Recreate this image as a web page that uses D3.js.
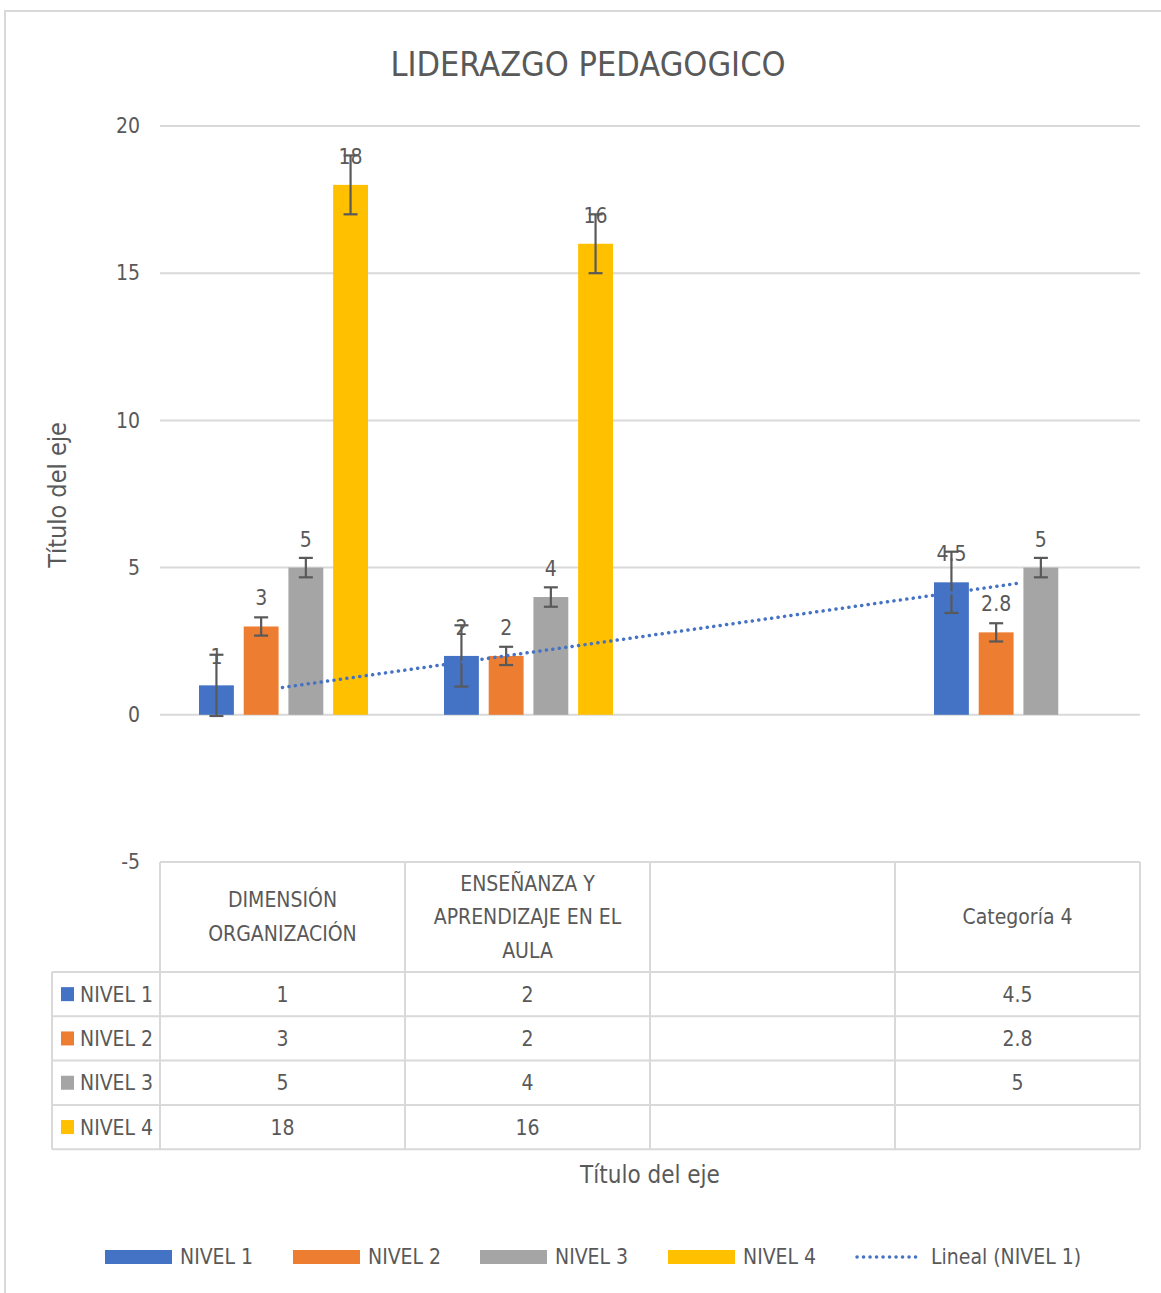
<!DOCTYPE html>
<html>
<head>
<meta charset="utf-8">
<script src="https://cdn.jsdelivr.net/npm/d3@7"></script>
<style>
  body { margin: 0; background: #fff; }
  svg text { font-family: "Liberation Sans Narrow", "DejaVu Sans Condensed", "Liberation Sans", sans-serif; fill: #595959; }
</style>
</head>
<body>
<svg id="chart" width="1161" height="1293"></svg>
<script>
// ---- data ----
const categories = [
  ["DIMENSIÓN", "ORGANIZACIÓN"],
  ["ENSEÑANZA Y", "APRENDIZAJE EN EL", "AULA"],
  [],
  ["Categoría 4"]
];
const seriesNames = ["NIVEL 1", "NIVEL 2", "NIVEL 3", "NIVEL 4"];
const seriesColors = ["#4472C4", "#ED7D31", "#A5A5A5", "#FFC000"];
const nivel1 = [1, 2, null, 4.5];
const nivel2 = [3, 2, null, 2.8];
const nivel3 = [5, 4, null, 5];
const nivel4 = [18, 16, null, null];
const errorAmount = [1.04, 0.31, 0.33, 1.0];   // standard error per series
const yTicks = [-5, 0, 5, 10, 15, 20];

const seriesValues = [nivel1, nivel2, nivel3, nivel4];

const svg = d3.select("#chart");
const grid = "#d9d9d9";

// chart frame
svg.append("rect").attr("x", 5).attr("y", 11).attr("width", 1170).attr("height", 1300)
  .attr("fill", "none").attr("stroke", grid).attr("stroke-width", 2);

// ---- scales ----
const x0 = d3.scaleBand().domain(d3.range(categories.length)).range([160, 1140]);
const x1 = d3.scaleBand().domain(d3.range(seriesNames.length)).range([39, 208]).paddingInner(0.22);
const y = d3.scaleLinear().domain([-5, 20]).range([862, 126]);

// title
svg.append("text").attr("x", 588).attr("y", 76).attr("text-anchor", "middle")
  .style("font-size", "34px").text("LIDERAZGO PEDAGOGICO");

// gridlines
svg.append("g").selectAll("line").data(yTicks.filter(t => t > -5)).enter().append("line")
  .attr("x1", 160).attr("x2", 1140)
  .attr("y1", d => y(d)).attr("y2", d => y(d))
  .attr("stroke", grid).attr("stroke-width", 2);

// y axis labels
const yAxis = d3.axisLeft(y).tickValues(yTicks).tickSize(0).tickPadding(20)
  .tickFormat(d => String(d));
const yg = svg.append("g").attr("transform", "translate(160,0)").call(yAxis);
yg.select(".domain").remove();
yg.selectAll("text").style("font-size", "21px").attr("fill", "#595959")
  .style("font-family", "'Liberation Sans Narrow', 'DejaVu Sans Condensed', sans-serif");

// y axis title
svg.append("text").attr("transform", "translate(66,495) rotate(-90)")
  .attr("text-anchor", "middle").style("font-size", "25px").text("Título del eje");

// ---- bars ----
const barData = [];
seriesValues.forEach((vals, s) => vals.forEach((v, c) => {
  if (v !== null) barData.push({ s, c, v });
}));

const bars = svg.append("g");
bars.selectAll("rect").data(barData).enter().append("rect")
  .attr("x", d => x0(d.c) + x1(d.s))
  .attr("width", x1.bandwidth())
  .attr("y", d => y(d.v))
  .attr("height", d => y(0) - y(d.v))
  .attr("fill", d => seriesColors[d.s]);

// data labels
svg.append("g").selectAll("text").data(barData).enter().append("text")
  .attr("x", d => x0(d.c) + x1(d.s) + x1.bandwidth() / 2)
  .attr("y", d => y(d.v) - 21)
  .attr("text-anchor", "middle")
  .style("font-size", "21px").attr("fill", "#404040")
  .text(d => d.v);

// error bars
const eb = svg.append("g").attr("stroke", "#595959").attr("stroke-width", 2.2);
barData.forEach(d => {
  const cx = x0(d.c) + x1(d.s) + x1.bandwidth() / 2;
  const e = errorAmount[d.s];
  const top = y(d.v + e), bot = y(d.v - e);
  eb.append("line").attr("x1", cx).attr("x2", cx).attr("y1", top).attr("y2", bot);
  eb.append("line").attr("x1", cx - 7).attr("x2", cx + 7).attr("y1", top).attr("y2", top);
  eb.append("line").attr("x1", cx - 7).attr("x2", cx + 7).attr("y1", bot).attr("y2", bot);
});

// linear trendline for NIVEL 1 (least squares on category index 1..n)
const pts = nivel1.map((v, i) => ({ xi: i + 1, v })).filter(p => p.v !== null);
const mx = d3.mean(pts, p => p.xi), my = d3.mean(pts, p => p.v);
const slope = d3.sum(pts, p => (p.xi - mx) * (p.v - my)) / d3.sum(pts, p => (p.xi - mx) ** 2);
const icpt = my - slope * mx;
const catCenter = i => x0(i) + x0.bandwidth() / 2;
svg.append("line")
  .attr("x1", catCenter(0)).attr("y1", y(icpt + slope * 1))
  .attr("x2", catCenter(categories.length - 1)).attr("y2", y(icpt + slope * categories.length))
  .attr("stroke", "#4472C4").attr("stroke-width", 3.5)
  .attr("stroke-dasharray", "0.1 6.4").attr("stroke-linecap", "round");

// ---- data table ----
const tTop = y(-5), headBot = 972;
const rowH = 44.3;
const tb = svg.append("g").attr("stroke", grid).attr("stroke-width", 2);
const colEdges = d3.range(categories.length + 1).map(i => i < categories.length ? x0(i) : 1140);
// header lines
tb.append("line").attr("x1", 160).attr("x2", 1140).attr("y1", tTop).attr("y2", tTop);
colEdges.forEach(cx => tb.append("line").attr("x1", cx).attr("x2", cx)
  .attr("y1", tTop).attr("y2", headBot + rowH * seriesNames.length));
d3.range(seriesNames.length + 1).forEach(r => {
  const yy = headBot + r * rowH;
  tb.append("line").attr("x1", 52).attr("x2", 1140).attr("y1", yy).attr("y2", yy);
});
tb.append("line").attr("x1", 52).attr("x2", 52).attr("y1", headBot).attr("y2", headBot + rowH * seriesNames.length);

// header text
categories.forEach((lines, c) => {
  const cy = (tTop + headBot) / 2;
  const lh = 33.5;
  lines.forEach((ln, k) => {
    svg.append("text").attr("x", catCenter(c))
      .attr("y", cy + (k - (lines.length - 1) / 2) * lh + 7)
      .attr("text-anchor", "middle").style("font-size", "21px").text(ln);
  });
});

// rows
seriesNames.forEach((name, s) => {
  const cy = headBot + s * rowH + rowH / 2;
  svg.append("rect").attr("x", 61).attr("y", cy - 7).attr("width", 13).attr("height", 14)
    .attr("fill", seriesColors[s]);
  svg.append("text").attr("x", 80).attr("y", cy + 7.5).style("font-size", "21px").text(name);
  seriesValues[s].forEach((v, c) => {
    if (v === null) return;
    svg.append("text").attr("x", catCenter(c)).attr("y", cy + 7.5)
      .attr("text-anchor", "middle").style("font-size", "21px").text(v);
  });
});

// x axis title
svg.append("text").attr("x", 650).attr("y", 1183).attr("text-anchor", "middle")
  .style("font-size", "24px").text("Título del eje");

// ---- legend ----
const legendX = [105, 293, 480, 668];
const lg = svg.append("g");
seriesNames.forEach((name, s) => {
  lg.append("rect").attr("x", legendX[s]).attr("y", 1250).attr("width", 67).attr("height", 14)
    .attr("fill", seriesColors[s]);
  lg.append("text").attr("x", legendX[s] + 75).attr("y", 1264).style("font-size", "21px").text(name);
});
lg.append("line").attr("x1", 857).attr("x2", 921).attr("y1", 1257).attr("y2", 1257)
  .attr("stroke", "#4472C4").attr("stroke-width", 3.5)
  .attr("stroke-dasharray", "0.1 6.4").attr("stroke-linecap", "round");
lg.append("text").attr("x", 931).attr("y", 1264).style("font-size", "21px").text("Lineal (NIVEL 1)");
</script>
</body>
</html>
